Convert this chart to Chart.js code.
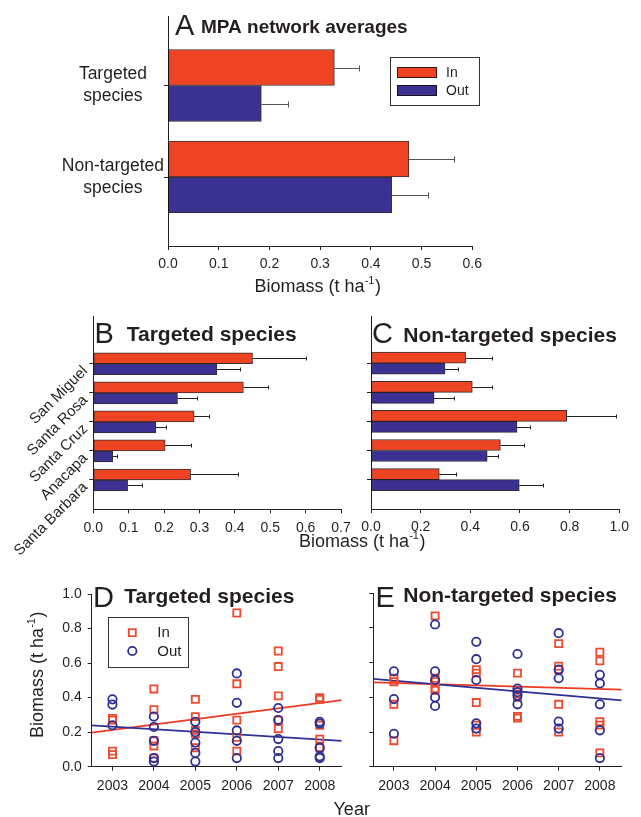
<!DOCTYPE html>
<html><head><meta charset="utf-8">
<script src="https://cdn.jsdelivr.net/npm/chart.js@4.4.1/dist/chart.umd.min.js"></script>
<style>
html,body{margin:0;padding:0;background:#fff;}
#wrap{position:relative;width:641px;height:817px;overflow:hidden;background:#fff;}
#wrap canvas{position:absolute;}
</style></head><body>
<div id="wrap">
<canvas id="cA" width="641" height="300" style="left:0;top:0"></canvas>
<canvas id="cB" width="641" height="280" style="left:0;top:300px"></canvas>
<canvas id="cC" width="296" height="280" style="left:345px;top:300px"></canvas>
<canvas id="cD" width="641" height="242" style="left:0;top:575px"></canvas>
<canvas id="cE" width="296" height="242" style="left:345px;top:575px"></canvas>
</div>
<script>
// ---------- DATA ----------
// Panel A: MPA network averages
const mpaGroups = ['Targeted species', 'Non-targeted species'];
const mpaIn = [0.328, 0.475];
const mpaInSE = [0.048, 0.088];
const mpaOut = [0.184, 0.441];
const mpaOutSE = [0.052, 0.072];
const mpaTicks = [0, 0.1, 0.2, 0.3, 0.4, 0.5, 0.6];

// Panels B & C: by island
const islands = ['San Miguel', 'Santa Rosa', 'Santa Cruz', 'Anacapa', 'Santa Barbara'];
const targetedIslandIn = [0.450, 0.424, 0.285, 0.203, 0.275];
const targetedIslandInSE = [0.151, 0.071, 0.043, 0.073, 0.135];
const targetedIslandOut = [0.349, 0.238, 0.177, 0.055, 0.097];
const targetedIslandOutSE = [0.066, 0.056, 0.028, 0.013, 0.040];
const nontargetedIslandIn = [0.381, 0.408, 0.788, 0.521, 0.275];
const nontargetedIslandInSE = [0.106, 0.078, 0.197, 0.096, 0.067];
const nontargetedIslandOut = [0.298, 0.254, 0.588, 0.468, 0.597];
const nontargetedIslandOutSE = [0.052, 0.079, 0.051, 0.043, 0.094];
const targetedTicks = [0, 0.1, 0.2, 0.3, 0.4, 0.5, 0.6, 0.7];
const nontargetedTicks = [0, 0.2, 0.4, 0.6, 0.8, 1.0];

// Panels D & E: by year
const years = [2003, 2004, 2005, 2006, 2007, 2008];
const targetedInByYear = [
  [0.28, 0.27, 0.09, 0.07],
  [0.45, 0.33, 0.15, 0.12, 0.05],
  [0.39, 0.29, 0.21, 0.19, 0.11],
  [0.89, 0.48, 0.27, 0.17, 0.09],
  [0.67, 0.58, 0.41, 0.27, 0.22],
  [0.40, 0.39, 0.24, 0.16, 0.11]
];
const targetedOutByYear = [
  [0.39, 0.36, 0.24],
  [0.29, 0.23, 0.15, 0.05, 0.03],
  [0.26, 0.20, 0.14, 0.08, 0.03],
  [0.54, 0.37, 0.21, 0.15, 0.05],
  [0.34, 0.27, 0.16, 0.09, 0.05],
  [0.26, 0.25, 0.11, 0.06, 0.05]
];
const nontargetedInByYear = [
  [0.51, 0.49, 0.36, 0.15],
  [0.87, 0.51, 0.49, 0.45, 0.44],
  [0.56, 0.54, 0.37, 0.24, 0.20],
  [0.54, 0.42, 0.40, 0.29, 0.28],
  [0.71, 0.58, 0.56, 0.36, 0.20],
  [0.66, 0.61, 0.26, 0.24, 0.08]
];
const nontargetedOutByYear = [
  [0.55, 0.39, 0.19],
  [0.82, 0.55, 0.50, 0.40, 0.35],
  [0.72, 0.62, 0.50, 0.25, 0.22],
  [0.65, 0.45, 0.43, 0.41, 0.36],
  [0.77, 0.56, 0.51, 0.26, 0.22],
  [0.53, 0.48, 0.36, 0.21, 0.05]
];
const trendYears = [2002.5, 2008.53];
const targetedTrendIn = [0.197, 0.386];
const targetedTrendOut = [0.239, 0.149];
const nontargetedTrendIn = [0.486, 0.444];
const nontargetedTrendOut = [0.506, 0.382];
const biomassTicks = [0, 0.2, 0.4, 0.6, 0.8, 1.0];

// ---------- STYLE ----------
const TXT = '#231f20';
const FONT = '"Liberation Sans", Arial, Helvetica, sans-serif';
const RED = '#EE4424', BLUE = '#3A3192';
const PT_RED = '#EE4A2E', PT_BLUE = '#2E3192';
const EDGE = 'rgba(20,10,10,0.85)';
Chart.defaults.font.family = FONT;
Chart.defaults.color = TXT;

function linAxis(o) {
  return {
    type: 'linear', min: o.min, max: o.max, reverse: !!o.reverse, offset: false,
    position: o.position,
    border: {display: true, color: TXT, width: 1},
    grid: {display: true, drawOnChartArea: false, drawTicks: true, tickLength: 4, color: TXT, lineWidth: 1, offset: false},
    ticks: Object.assign({autoSkip: false, color: TXT, font: {size: 14}, padding: 6}, o.ticks || {}),
    afterBuildTicks: s => { s.ticks = o.tickValues.map(v => ({value: v})); },
    afterFit: s => {
      if (o.width !== undefined) s.width = o.width;
      if (o.height !== undefined) s.height = o.height;
      s.paddingTop = 0; s.paddingBottom = 0; s.paddingLeft = 0; s.paddingRight = 0;
    }
  };
}

function errorBars(seList, color, capHalf) {
  return {
    id: 'errorBars',
    afterDatasetsDraw(chart) {
      const ctx = chart.ctx, xs = chart.scales.x;
      ctx.save(); ctx.strokeStyle = color; ctx.lineWidth = 1;
      chart.data.datasets.forEach((ds, di) => {
        const se = seList[di];
        chart.getDatasetMeta(di).data.forEach((el, i) => {
          const v = ds.data[i].x;
          const x0 = xs.getPixelForValue(v);
          const x1 = Math.round(xs.getPixelForValue(v + se[i])) + 0.5;
          const y = Math.round(el.y) + 0.5;
          ctx.beginPath();
          ctx.moveTo(x0, y); ctx.lineTo(x1, y);
          ctx.moveTo(x1, y - capHalf); ctx.lineTo(x1, y + capHalf);
          ctx.stroke();
        });
      });
      ctx.restore();
    }
  };
}

function biomassLabel(ctx, cx, by, size, rot) {
  ctx.save();
  ctx.translate(cx, by); if (rot) ctx.rotate(rot);
  ctx.fillStyle = TXT; ctx.textBaseline = 'alphabetic'; ctx.textAlign = 'left';
  const f1 = size + 'px ' + FONT, f2 = Math.round(size * 0.62) + 'px ' + FONT;
  const a = 'Biomass (t ha', s = '-1', e = ')';
  ctx.font = f1; const wa = ctx.measureText(a).width, we = ctx.measureText(e).width;
  ctx.font = f2; const ws = ctx.measureText(s).width;
  let x = -(wa + ws + we) / 2;
  ctx.font = f1; ctx.fillText(a, x, 0); x += wa;
  ctx.font = f2; ctx.fillText(s, x, -size * 0.42); x += ws + 0.5;
  ctx.font = f1; ctx.fillText(e, x, 0);
  ctx.restore();
}

function panelTitle(ctx, letter, lx, ly, title, tx, ty, tsize) {
  ctx.save();
  ctx.fillStyle = TXT; ctx.textBaseline = 'alphabetic'; ctx.textAlign = 'left';
  ctx.font = '29px ' + FONT; ctx.fillText(letter, lx, ly);
  ctx.font = 'bold ' + tsize + 'px ' + FONT; ctx.fillText(title, tx, ty);
  ctx.restore();
}

function barPanel(id, inV, inSE, outV, outSE, cfg) {
  return new Chart(document.getElementById(id), {
    type: 'bar',
    data: {datasets: [
      {label: 'In', data: inV.map((v, i) => ({x: v, y: i + 1})), backgroundColor: RED, borderColor: EDGE,
       borderWidth: 1, borderSkipped: false, barThickness: cfg.thick},
      {label: 'Out', data: outV.map((v, i) => ({x: v, y: i + 1})), backgroundColor: BLUE, borderColor: EDGE,
       borderWidth: 1, borderSkipped: false, barThickness: cfg.thick}
    ]},
    options: {
      indexAxis: 'y', responsive: false, animation: false, devicePixelRatio: 1, events: [],
      layout: {padding: {left: 0, top: cfg.t, right: cfg.W - cfg.r, bottom: 0}},
      plugins: {legend: {display: false}, tooltip: {enabled: false}},
      scales: {
        x: linAxis({position: 'bottom', min: 0, max: cfg.xMax, tickValues: cfg.xTicks, height: cfg.H - cfg.b,
          ticks: {padding: cfg.xPad, callback: v => v.toFixed(1)}}),
        y: linAxis({position: 'left', min: cfg.iMin, max: cfg.iMax, reverse: true, tickValues: cfg.iTicks, width: cfg.l,
          ticks: cfg.yTicks})
      }
    },
    plugins: [errorBars([inSE, outSE], cfg.errColor, cfg.cap), {id: 'deco', afterDraw: cfg.deco}]
  });
}

function pts(byYear) {
  const out = [];
  byYear.forEach((vals, i) => vals.forEach(v => out.push({x: years[i], y: v})));
  return out;
}

function scatterPanel(id, inBy, outBy, trIn, trOut, cfg) {
  const line = (vals, color) => ({
    data: trendYears.map((x, i) => ({x: x, y: vals[i]})), showLine: true, borderColor: color,
    borderWidth: 1.8, pointRadius: 0, fill: false, order: 3
  });
  return new Chart(document.getElementById(id), {
    type: 'scatter',
    data: {datasets: [
      {label: 'Out', data: pts(outBy), pointStyle: 'circle', pointRadius: 4.2, pointBorderWidth: 1.8,
       pointBorderColor: PT_BLUE, pointBackgroundColor: 'rgba(0,0,0,0)', clip: false, order: 1},
      {label: 'In', data: pts(inBy), pointStyle: 'rect', pointRadius: 5, pointBorderWidth: 1.8,
       pointBorderColor: PT_RED, pointBackgroundColor: 'rgba(0,0,0,0)', clip: false, order: 2},
      line(trOut, '#2E3192'),
      line(trIn, '#EE3A24')
    ]},
    options: {
      responsive: false, animation: false, devicePixelRatio: 1, events: [],
      layout: {padding: {left: 0, top: cfg.t, right: cfg.W - cfg.r, bottom: 0}},
      plugins: {legend: {display: false}, tooltip: {enabled: false}},
      scales: {
        x: linAxis({position: 'bottom', min: trendYears[0], max: trendYears[1], tickValues: years, height: cfg.H - cfg.b,
          ticks: {padding: 7.5, callback: v => String(v)}}),
        y: linAxis({position: 'left', min: 0, max: 1, tickValues: biomassTicks, width: cfg.l,
          ticks: {display: cfg.yLabels, padding: 6, callback: v => v.toFixed(1)}})
      }
    },
    plugins: [{id: 'deco', afterDraw: cfg.deco}]
  });
}

// ---------- PANEL A ----------
barPanel('cA', mpaIn, mpaInSE, mpaOut, mpaOutSE, {
  W: 641, H: 300, l: 168, t: 16.7, r: 472.3, b: 246,
  thick: 36, xMax: 0.6, xTicks: mpaTicks, xPad: 6,
  iMin: 0.248, iMax: 2.754, iTicks: [1, 2],
  yTicks: {crossAlign: 'center', padding: 0, font: {size: 17.5, lineHeight: 1.27},
    callback: v => mpaGroups[Math.round(v) - 1].split(' ')},
  errColor: '#555', cap: 3,
  deco: chart => {
    const c = chart.ctx;
    panelTitle(c, 'A', 175, 35, 'MPA network averages', 201, 33, 19);
    c.save();
    c.strokeStyle = '#333'; c.lineWidth = 1;
    c.strokeRect(390.5, 57.5, 89, 48);
    c.fillStyle = RED; c.fillRect(397, 67, 40, 11);
    c.fillStyle = BLUE; c.fillRect(397, 85, 40, 11);
    c.strokeStyle = EDGE; c.strokeRect(397.5, 67.5, 39, 10); c.strokeRect(397.5, 85.5, 39, 10);
    c.fillStyle = TXT; c.font = '14px ' + FONT; c.textBaseline = 'middle'; c.textAlign = 'left';
    c.fillText('In', 446, 73); c.fillText('Out', 446, 91);
    c.restore();
    biomassLabel(c, 317.5, 292, 18, 0);
  }
});

// ---------- PANEL B ----------
barPanel('cB', targetedIslandIn, targetedIslandInSE, targetedIslandOut, targetedIslandOutSE, {
  W: 641, H: 280, l: 93.3, t: 16.7, r: 341, b: 209.3,
  thick: 11, xMax: 0.7, xTicks: targetedTicks, xPad: 6,
  iMin: -0.621, iMax: 6.009, iTicks: [1, 2, 3, 4, 5],
  yTicks: {padding: 4, labelOffset: 5, minRotation: 45, maxRotation: 45, font: {size: 15},
    callback: v => islands[Math.round(v) - 1]},
  errColor: '#222', cap: 2,
  deco: chart => {
    const c = chart.ctx;
    panelTitle(c, 'B', 94.5, 43.3, 'Targeted species', 126.7, 40.7, 21);
    biomassLabel(c, 362, 247, 18, 0);
  }
});

// ---------- PANEL C ----------
barPanel('cC', nontargetedIslandIn, nontargetedIslandInSE, nontargetedIslandOut, nontargetedIslandOutSE, {
  W: 296, H: 280, l: 26, t: 16, r: 274.3, b: 209,
  thick: 11, xMax: 1.0, xTicks: nontargetedTicks, xPad: 6,
  iMin: -0.621, iMax: 6.009, iTicks: [1, 2, 3, 4, 5],
  yTicks: {display: false},
  errColor: '#222', cap: 2,
  deco: chart => {
    panelTitle(chart.ctx, 'C', 27, 43, 'Non-targeted species', 58.3, 42, 21);
  }
});

// ---------- PANEL D ----------
scatterPanel('cD', targetedInByYear, targetedOutByYear, targetedTrendIn, targetedTrendOut, {
  W: 641, H: 242, l: 91.7, t: 19, r: 341.7, b: 191.7, yLabels: true,
  deco: chart => {
    const c = chart.ctx;
    panelTitle(c, 'D', 93, 32.3, 'Targeted species', 124.3, 27.7, 21);
    c.save();
    c.strokeStyle = '#333'; c.lineWidth = 1; c.strokeRect(108.5, 42.5, 80, 50);
    c.lineWidth = 1.8;
    c.strokeStyle = PT_RED; c.strokeRect(132.3 - 3.5, 57.7 - 3.5, 7, 7);
    c.strokeStyle = PT_BLUE; c.beginPath(); c.arc(132.3, 76, 4.2, 0, Math.PI * 2); c.stroke();
    c.fillStyle = TXT; c.font = '15px ' + FONT; c.textBaseline = 'middle'; c.textAlign = 'left';
    c.fillText('In', 157.3, 58); c.fillText('Out', 157.3, 76.5);
    c.font = '18px ' + FONT; c.textAlign = 'center'; c.textBaseline = 'alphabetic';
    c.fillText('Year', 351.7, 240);
    c.restore();
    biomassLabel(c, 43, 100, 18, -Math.PI / 2);
  }
});

// ---------- PANEL E ----------
scatterPanel('cE', nontargetedInByYear, nontargetedOutByYear, nontargetedTrendIn, nontargetedTrendOut, {
  W: 296, H: 242, l: 28.3, t: 18.3, r: 276.7, b: 191.7, yLabels: false,
  deco: chart => {
    panelTitle(chart.ctx, 'E', 30.5, 32.3, 'Non-targeted species', 58.3, 26.7, 21);
  }
});
</script>
</body></html>
